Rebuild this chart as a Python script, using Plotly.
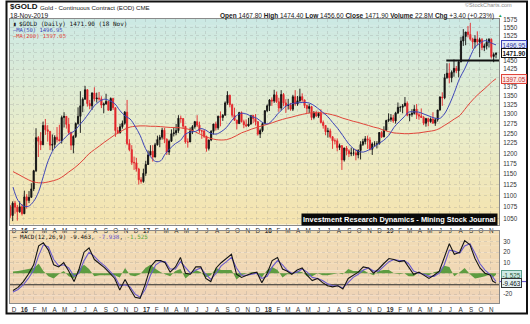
import numpy as np
import pandas as pd
import plotly.graph_objects as go

# ---------------------------------------------------------------------------
# Gold continuous contract, weekly bars (open, high, low, close).
# Weeks start on Monday 23-Nov-2015; the last bar is Monday 18-Nov-2019.
# ---------------------------------------------------------------------------
bars_2015 = [(1076, 1080, 1052, 1057), (1057, 1088, 1045, 1084), (1084, 1089, 1061, 1075),
             (1075, 1080, 1046, 1065), (1065, 1088, 1063, 1076), (1076, 1082, 1057, 1061)]

bars_2016 = [(1061, 1112, 1060, 1098), (1098, 1104, 1072, 1090), (1090, 1111, 1084, 1097),
             (1097, 1129, 1096, 1116), (1116, 1160, 1111, 1158), (1158, 1263, 1155, 1239),
             (1239, 1243, 1191, 1230), (1230, 1253, 1208, 1221), (1221, 1280, 1221, 1270),
             (1270, 1287, 1246, 1259), (1259, 1271, 1229, 1255), (1255, 1255, 1208, 1220),
             (1220, 1247, 1206, 1222), (1222, 1245, 1213, 1240), (1240, 1266, 1227, 1234),
             (1234, 1272, 1230, 1231), (1231, 1296, 1224, 1291), (1291, 1305, 1265, 1294),
             (1294, 1294, 1262, 1273), (1273, 1290, 1246, 1252), (1252, 1254, 1208, 1220),
             (1220, 1245, 1200, 1242), (1242, 1278, 1238, 1275), (1275, 1318, 1272, 1294),
             (1294, 1362, 1251, 1322), (1322, 1345, 1305, 1340), (1340, 1377, 1339, 1366),
             (1366, 1368, 1320, 1328), (1328, 1338, 1313, 1322), (1322, 1359, 1311, 1357),
             (1357, 1373, 1334, 1341), (1341, 1358, 1331, 1343), (1343, 1360, 1336, 1341),
             (1341, 1348, 1316, 1324), (1324, 1331, 1302, 1327), (1327, 1355, 1325, 1334),
             (1334, 1336, 1310, 1310), (1310, 1345, 1308, 1342), (1342, 1344, 1311, 1317),
             (1317, 1318, 1241, 1257), (1257, 1266, 1248, 1251), (1251, 1274, 1250, 1267),
             (1267, 1283, 1262, 1276), (1276, 1308, 1272, 1305), (1305, 1338, 1220, 1224),
             (1224, 1235, 1205, 1209), (1209, 1220, 1172, 1178), (1178, 1192, 1160, 1177),
             (1177, 1189, 1156, 1162), (1162, 1165, 1126, 1137), (1137, 1143, 1128, 1133),
             (1133, 1163, 1130, 1152)]

bars_2017 = [(1152, 1182, 1146, 1173), (1173, 1207, 1172, 1196), (1196, 1220, 1195, 1205),
             (1205, 1220, 1180, 1191), (1191, 1226, 1190, 1221), (1221, 1244, 1219, 1234),
             (1234, 1246, 1215, 1240), (1240, 1264, 1234, 1258), (1258, 1264, 1225, 1235),
             (1235, 1237, 1196, 1203), (1203, 1234, 1196, 1230), (1230, 1260, 1228, 1249),
             (1249, 1265, 1242, 1251), (1251, 1274, 1245, 1257), (1257, 1297, 1251, 1289),
             (1289, 1296, 1277, 1288), (1288, 1289, 1262, 1268), (1268, 1268, 1224, 1228),
             (1228, 1237, 1214, 1228), (1228, 1265, 1228, 1255), (1255, 1271, 1248, 1267),
             (1267, 1282, 1262, 1280), (1280, 1297, 1266, 1271), (1271, 1280, 1251, 1256),
             (1256, 1259, 1236, 1256), (1256, 1260, 1238, 1242), (1242, 1244, 1204, 1212),
             (1212, 1234, 1207, 1233), (1233, 1258, 1230, 1255), (1255, 1274, 1247, 1274),
             (1274, 1280, 1257, 1264), (1264, 1296, 1259, 1294), (1294, 1307, 1268, 1291),
             (1291, 1300, 1282, 1297), (1297, 1334, 1296, 1330), (1330, 1362, 1325, 1351),
             (1351, 1352, 1318, 1325), (1325, 1328, 1291, 1297), (1297, 1317, 1282, 1284),
             (1284, 1285, 1260, 1275), (1275, 1306, 1274, 1304), (1304, 1307, 1278, 1280),
             (1280, 1285, 1263, 1272), (1272, 1286, 1266, 1269), (1269, 1290, 1267, 1274),
             (1274, 1297, 1272, 1296), (1296, 1298, 1276, 1288), (1288, 1300, 1270, 1280),
             (1280, 1281, 1244, 1248), (1248, 1262, 1238, 1257), (1257, 1275, 1253, 1275),
             (1275, 1310, 1273, 1309)]

bars_2018 = [(1309, 1326, 1305, 1322), (1322, 1340, 1308, 1338), (1338, 1345, 1322, 1335),
             (1335, 1366, 1330, 1352), (1352, 1361, 1330, 1333), (1333, 1344, 1306, 1316),
             (1316, 1365, 1310, 1353), (1353, 1357, 1321, 1330), (1330, 1340, 1303, 1323),
             (1323, 1341, 1312, 1324), (1324, 1330, 1309, 1313), (1313, 1352, 1308, 1347),
             (1347, 1365, 1322, 1327), (1327, 1349, 1322, 1336), (1336, 1369, 1331, 1347),
             (1347, 1356, 1333, 1338), (1338, 1339, 1316, 1323), (1323, 1325, 1302, 1315),
             (1315, 1327, 1303, 1320), (1320, 1322, 1284, 1291), (1291, 1308, 1286, 1303),
             (1303, 1309, 1292, 1295), (1295, 1306, 1290, 1302), (1302, 1313, 1275, 1278),
             (1278, 1283, 1262, 1270), (1270, 1271, 1245, 1254), (1254, 1264, 1239, 1256),
             (1256, 1262, 1237, 1241), (1241, 1243, 1211, 1231), (1231, 1237, 1222, 1231),
             (1231, 1237, 1205, 1214), (1214, 1224, 1208, 1219), (1219, 1219, 1160, 1184),
             (1184, 1214, 1180, 1213), (1213, 1218, 1195, 1206), (1206, 1210, 1191, 1199),
             (1199, 1214, 1193, 1201), (1201, 1212, 1194, 1201), (1201, 1210, 1183, 1196),
             (1196, 1210, 1188, 1207), (1207, 1230, 1185, 1222), (1222, 1236, 1218, 1229),
             (1229, 1243, 1222, 1236), (1236, 1244, 1211, 1233), (1233, 1240, 1207, 1210),
             (1210, 1227, 1196, 1223), (1223, 1230, 1217, 1223), (1223, 1230, 1212, 1223),
             (1223, 1253, 1222, 1252), (1252, 1256, 1238, 1241), (1241, 1268, 1240, 1258),
             (1258, 1285, 1256, 1283)]

bars_2019 = [(1283, 1302, 1279, 1286), (1286, 1300, 1280, 1290), (1290, 1298, 1277, 1282),
             (1282, 1306, 1275, 1303), (1303, 1331, 1300, 1318), (1318, 1322, 1306, 1318),
             (1318, 1327, 1302, 1322), (1322, 1346, 1320, 1329), (1329, 1334, 1294, 1297),
             (1297, 1301, 1281, 1299), (1299, 1313, 1293, 1302), (1302, 1324, 1299, 1313),
             (1313, 1327, 1287, 1298), (1298, 1303, 1285, 1295), (1295, 1315, 1290, 1291),
             (1291, 1295, 1271, 1276), (1276, 1290, 1267, 1288), (1288, 1290, 1268, 1280),
             (1280, 1291, 1277, 1287), (1287, 1305, 1275, 1276), (1276, 1290, 1269, 1285),
             (1285, 1311, 1280, 1311), (1311, 1348, 1309, 1346), (1346, 1359, 1322, 1344),
             (1344, 1411, 1340, 1400), (1400, 1442, 1397, 1413), (1413, 1442, 1384, 1400),
             (1400, 1421, 1387, 1416), (1416, 1453, 1403, 1427), (1427, 1434, 1413, 1420),
             (1420, 1449, 1401, 1446), (1446, 1522, 1445, 1509), (1509, 1546, 1494, 1523),
             (1523, 1537, 1496, 1537), (1537, 1556, 1520, 1529), (1529, 1566, 1510, 1515),
             (1515, 1519, 1485, 1506), (1506, 1527, 1487, 1515), (1515, 1539, 1496, 1506),
             (1506, 1519, 1460, 1513), (1513, 1518, 1481, 1489), (1489, 1501, 1478, 1494),
             (1494, 1516, 1483, 1505), (1505, 1518, 1489, 1514), (1514, 1517, 1456, 1462),
             (1462, 1474, 1445, 1468), (1467.8, 1474.4, 1456.6, 1471.9)]

# ---------------------------------------------------------------------------
# Indicators sampled on the 1st and 16th of each month (Dec-2015 .. Oct-2019),
# then 1-Nov, 8-Nov and 18-Nov-2019.
# ---------------------------------------------------------------------------
ma50 = [1120, 1090,
        1078, 1077, 1088, 1110, 1145, 1183, 1210, 1223, 1235, 1248, 1255, 1270,
        1285, 1303, 1322, 1334, 1340, 1336, 1328, 1310, 1295, 1287, 1268, 1245,
        1212, 1192, 1180, 1182, 1198, 1212, 1224, 1232, 1248, 1253, 1255, 1262,
        1258, 1250, 1248, 1254, 1265, 1282, 1296, 1302, 1300, 1293, 1289, 1279,
        1274, 1283, 1300, 1313, 1323, 1328, 1330, 1331, 1331, 1326, 1316, 1305,
        1294, 1278, 1262, 1244, 1225, 1212, 1205, 1203, 1208, 1215, 1224, 1232,
        1245, 1265, 1280, 1293, 1305, 1306, 1305, 1300, 1295, 1290, 1288, 1300,
        1325, 1358, 1398, 1425, 1460, 1490, 1502, 1510,
        1504, 1501, 1496.95]

ma200 = [1156, 1150,
         1143, 1137, 1132, 1130, 1130, 1132, 1135, 1139, 1146, 1155, 1164, 1174,
         1186, 1199, 1209, 1218, 1228, 1237, 1246, 1253, 1261, 1266, 1268, 1269,
         1269, 1268, 1268, 1267, 1266, 1265, 1265, 1264, 1262, 1259, 1253, 1247,
         1241, 1237, 1234, 1233, 1234, 1238, 1244, 1251, 1256, 1261, 1265, 1269,
         1273, 1277, 1282, 1286, 1289, 1292, 1296, 1299, 1302, 1303, 1304, 1303,
         1301, 1298, 1294, 1289, 1285, 1281, 1278, 1274, 1270, 1266, 1263, 1258,
         1254, 1251, 1250, 1249, 1249, 1250, 1251, 1253, 1255, 1257, 1262, 1270,
         1278, 1287, 1296, 1312, 1330, 1345, 1358, 1370,
         1384, 1390, 1397.05]

macd_line = [-16.5, -13.5,
             -8, -1, 8, 26, 29, 22, 8, 6, 10, 2, -8, 4,
             20, 24, 13, 9, 5, 0, -5, -16, -6, -15, -23, -24,
             -10, 6, 12, 12, 10, 1, 6, 15, 0, -1, 6, 6,
             -5, -8, 5, 10, 14, 18, -1, -4, -2, 0, 1, -9,
             0, 12, 15, 4, 2, -1, 3, 5, -2, -7, -5, -9,
             -12, -13, -12, -15, -5, -2, 1, 6, 5, 0, 4, 9,
             14, 13, 11, 12, 6, -1, 1, -2, -5, -2, 2, 15,
             28, 18, 20, 31, 27, 14, 5, 0,
             -2, -7.5, -9.463]

signal_line = [-18, -15.5,
               -11, -5, 3, 17, 27, 25, 13, 7, 8, 5, -3, 0,
               12, 20, 16, 11, 7, 2, -3, -12, -11, -13, -20, -23,
               -15, -2, 8, 11, 11, 4, 4, 11, 5, 0, 3, 5,
               -1, -6, 0, 7, 11, 15, 5, -2, -2, -1, 0, -5,
               -3, 6, 12, 8, 3, 0, 1, 4, 1, -4, -5, -7,
               -10, -12, -12, -14, -9, -4, -1, 3, 5, 2, 2, 6,
               11, 13, 12, 12, 9, 2, 0, -1, -3, -3, 0, 8,
               22, 21, 19, 26, 28, 19, 9, 3,
               -1, -3.5, -7.938]

support_level = 1450          # drawn from late June 2019 to the right edge
support_start = "2019-06-22"
macd_level = -11

# ---------------------------------------------------------------------------
bars = bars_2015 + bars_2016 + bars_2017 + bars_2018 + bars_2019
opens = [b[0] for b in bars]
highs = [b[1] for b in bars]
lows = [b[2] for b in bars]
closes = [b[3] for b in bars]
week_start = pd.date_range("2015-11-23", periods=len(bars), freq="W-MON")

ind_dates = []
for m in pd.date_range("2015-12-01", "2019-10-01", freq="MS"):
    ind_dates += [m, m + pd.Timedelta(days=15)]
ind_dates += [pd.Timestamp("2019-11-01"), pd.Timestamp("2019-11-08"), pd.Timestamp("2019-11-18")]
hist = [m - s for m, s in zip(macd_line, signal_line)]

X_RANGE = ["2015-11-22", "2019-11-27"]

# month ticks: initial letter, January shows the two-digit year in bold
tick_months = pd.date_range("2015-12-01", "2019-11-01", freq="MS")
tick_text = [f"<b>{d:%y}</b>" if d.month == 1 else "JFMAMJJASOND"[d.month - 1] for d in tick_months]

price_ticks = list(range(1050, 1576, 25))
price_text = ["" if v in (1400, 1475, 1500) else str(v) for v in price_ticks]

# ---------------------------------------------------------------------------
W, H = 530, 324
ML, MR, MT, MB = 10, 31, 19, 21
PW, PH = W - ML - MR, H - MT - MB


def px(x):
    return (x - ML) / PW


def py(y):
    return (H - MB - y) / PH


price_dom = [py(224.5), 1.0]
macd_dom = [0.0, py(231)]

fig = go.Figure()

fig.add_trace(go.Candlestick(
    x=week_start, open=opens, high=highs, low=lows, close=closes,
    increasing=dict(line=dict(color="#111111", width=0.9), fillcolor="#111111"),
    decreasing=dict(line=dict(color="#e3262b", width=0.9), fillcolor="#e3262b"),
    whiskerwidth=0, xaxis="x", yaxis="y", hoverinfo="skip", showlegend=False))

fig.add_trace(go.Scatter(x=ind_dates, y=ma200, mode="lines", line=dict(color="#e0443a", width=1, shape="spline"),
                         xaxis="x", yaxis="y", hoverinfo="skip"))
fig.add_trace(go.Scatter(x=ind_dates, y=ma50, mode="lines", line=dict(color="#3d45b8", width=1, shape="spline"),
                         xaxis="x", yaxis="y", hoverinfo="skip"))
fig.add_trace(go.Scatter(x=[support_start, X_RANGE[1]], y=[support_level, support_level], mode="lines",
                         line=dict(color="#111111", width=2), xaxis="x", yaxis="y", hoverinfo="skip"))

# MACD panel
fig.add_trace(go.Scatter(x=ind_dates, y=hist, mode="none", fill="tozeroy", fillcolor="rgba(78,150,52,0.9)",
                         xaxis="x2", yaxis="y2", hoverinfo="skip"))
fig.add_trace(go.Scatter(x=X_RANGE, y=[macd_level, macd_level], mode="lines",
                         line=dict(color="#2a2a2a", width=1.2), xaxis="x2", yaxis="y2", hoverinfo="skip"))
fig.add_trace(go.Scatter(x=ind_dates, y=signal_line, mode="lines", line=dict(color="#6a5acd", width=1.1),
                         xaxis="x2", yaxis="y2", hoverinfo="skip"))
fig.add_trace(go.Scatter(x=ind_dates, y=macd_line, mode="lines", line=dict(color="#151515", width=1.1),
                         xaxis="x2", yaxis="y2", hoverinfo="skip"))

# ---------------------------------------------------------------------------
# panel background gradients (thin horizontal bands)
def blend(stops, t):
    for (t0, c0), (t1, c1) in zip(stops[:-1], stops[1:]):
        if t0 <= t <= t1:
            f = (t - t0) / (t1 - t0) if t1 > t0 else 0
            return "rgb(%d,%d,%d)" % tuple(round(a + (b - a) * f) for a, b in zip(c0, c1))
    return "rgb(%d,%d,%d)" % stops[-1][1]


price_bg = [(0.0, (245, 227, 174)), (0.45, (233, 236, 201)), (1.0, (204, 233, 228))]
macd_bg = [(0.0, (239, 211, 183)), (1.0, (242, 221, 180))]

shapes = []
N1 = 60
for i in range(N1):
    shapes.append(dict(type="rect", xref="x domain", yref="y domain", x0=0, x1=1,
                       y0=i / N1, y1=(i + 1) / N1 + 0.002, fillcolor=blend(price_bg, (i + 0.5) / N1),
                       line=dict(width=0), layer="below"))
N2 = 20
for i in range(N2):
    shapes.append(dict(type="rect", xref="x2 domain", yref="y2 domain", x0=0, x1=1,
                       y0=i / N2, y1=(i + 1) / N2 + 0.002, fillcolor=blend(macd_bg, (i + 0.5) / N2),
                       line=dict(width=0), layer="below"))
# outer frame
shapes.append(dict(type="rect", xref="paper", yref="paper", x0=px(6.5), x1=px(527), y0=py(313.5), y1=py(1.5),
                   line=dict(color="#111111", width=2), fillcolor="rgba(0,0,0,0)", layer="above"))
# signal marker in the right column of the MACD panel
shapes.append(dict(type="line", xref="paper", yref="y2", x0=1.0, x1=px(526), y0=-7.938, y1=-7.938,
                   line=dict(color="#6a5acd", width=1.2), layer="above"))

SANS = "Liberation Sans, Arial, sans-serif"
MONO = "DejaVu Sans Mono, monospace"
GRID = "rgba(140,140,140,0.24)"

ann = []


def note(text, x, y, size, color="#111111", family=SANS, xanchor="left", **kw):
    ann.append(dict(text=text, x=px(x), y=py(y), xref="paper", yref="paper", showarrow=False,
                    xanchor=xanchor, yanchor="middle", font=dict(size=size, color=color, family=family), **kw))


note("<b>$GOLD</b>", 8, 6.8, 8)
note("Gold - Continuous Contract (EOD) CME", 38, 7, 6.2, "#222222")
note("18-Nov-2019", 8, 15.5, 6.6, "#222222")
note("<b>Open</b> 1467.80 <b>High</b> 1474.40 <b>Low</b> 1456.60 <b>Close</b> 1471.90 "
     "<b>Volume</b> 22.8M <b>Chg</b> +3.40 (+0.23%)", 495.5, 15.5, 6.5, "#222222", xanchor="right")
note("▲", 496, 15.5, 4.5, "#2e9e3a")
note("©StockCharts.com", 514, 5, 5.6, "#8a8a8a", xanchor="right")

note("▮", 11, 24, 6, "#222222", MONO)
note("$GOLD (Daily) 1471.90 (18 Nov)", 17, 24, 6, "#111111", MONO)
note("—MA(50) 1496.95", 11, 30, 5.5, "#3d45b8", MONO)
note("—MA(200) 1397.05", 11, 36, 5.5, "#e0443a", MONO)
note("— MACD(12,26,9) -9.463, <span style='color:#6a5acd'>-7.938</span>, "
     "<span style='color:#5aa83c'>-1.525</span>", 11, 236.5, 5.9, "#111111", MONO)

note("<b>Investment Research Dynamics - Mining Stock Journal</b>", 497.5, 219.5, 7.4, "white",
     xanchor="right", bgcolor="#0a0a0a", borderpad=1)


def value_box(text, y, yref, fill, border, color, bold=False):
    ann.append(dict(text=f"<b>{text}</b>" if bold else text, x=1.0, xshift=1.5, xref="paper",
                    y=y, yref=yref, showarrow=False, xanchor="left", yanchor="middle",
                    bgcolor=fill, bordercolor=border, borderwidth=1, borderpad=0.5,
                    font=dict(size=6.3, color=color, family=SANS)))


value_box("1496.95", np.log10(ma50[-1]), "y", "#e4ebfa", "#3d45b8", "#2a349a")
value_box("1471.90", np.log10(closes[-1]), "y", "#ffffff", "#111111", "#111111", bold=True)
value_box("1397.05", np.log10(ma200[-1]), "y", "#fde8e6", "#e0443a", "#c0302a")
value_box("-1.525", hist[-1], "y2", "#cdeae4", "#5a9e8a", "#2d5e3a")
value_box("-9.463", macd_line[-1], "y2", "#e3f1f3", "#333333", "#111111")

xcommon = dict(type="date", range=X_RANGE, tickvals=tick_months, ticktext=tick_text,
               tickfont=dict(size=6.3, color="#333333", family=SANS), ticks="",
               showgrid=True, gridcolor=GRID, griddash="dot", gridwidth=1,
               showline=True, mirror=True, linecolor="#8a8a8a", linewidth=1,
               ticklabelstandoff=0, ticklabelshift=1, zeroline=False)

fig.update_layout(
    width=W, height=H, margin=dict(l=ML, r=MR, t=MT, b=MB),
    paper_bgcolor="white", plot_bgcolor="rgba(0,0,0,0)", showlegend=False,
    xaxis=dict(domain=[0, 1], anchor="y", rangeslider=dict(visible=False), **xcommon),
    xaxis2=dict(domain=[0, 1], anchor="y2", matches="x", **xcommon),
    yaxis=dict(domain=price_dom, anchor="x", type="log", side="right",
               range=[np.log10(1037.8), np.log10(1578.2)], tickvals=price_ticks, ticktext=price_text,
               tickfont=dict(size=6.3, color="#333333", family=SANS), ticks="", ticklabelstandoff=2,
               showgrid=True, gridcolor=GRID, griddash="dot", gridwidth=1,
               showline=True, mirror=True, linecolor="#8a8a8a", linewidth=1, zeroline=False),
    yaxis2=dict(domain=macd_dom, anchor="x2", side="right", range=[-28.4, 40.2],
                tickvals=[-20, -10, 0, 10, 20, 30], ticktext=["-20", "", "", "10", "20", "30"],
                tickfont=dict(size=6.3, color="#333333", family=SANS), ticks="", ticklabelstandoff=2,
                showgrid=True, gridcolor=GRID, griddash="dot", gridwidth=1,
                showline=True, mirror=True, linecolor="#8a8a8a", linewidth=1, zeroline=False),
    shapes=shapes, annotations=ann,
)

fig.write_html("out.html", config={"displayModeBar": False})
